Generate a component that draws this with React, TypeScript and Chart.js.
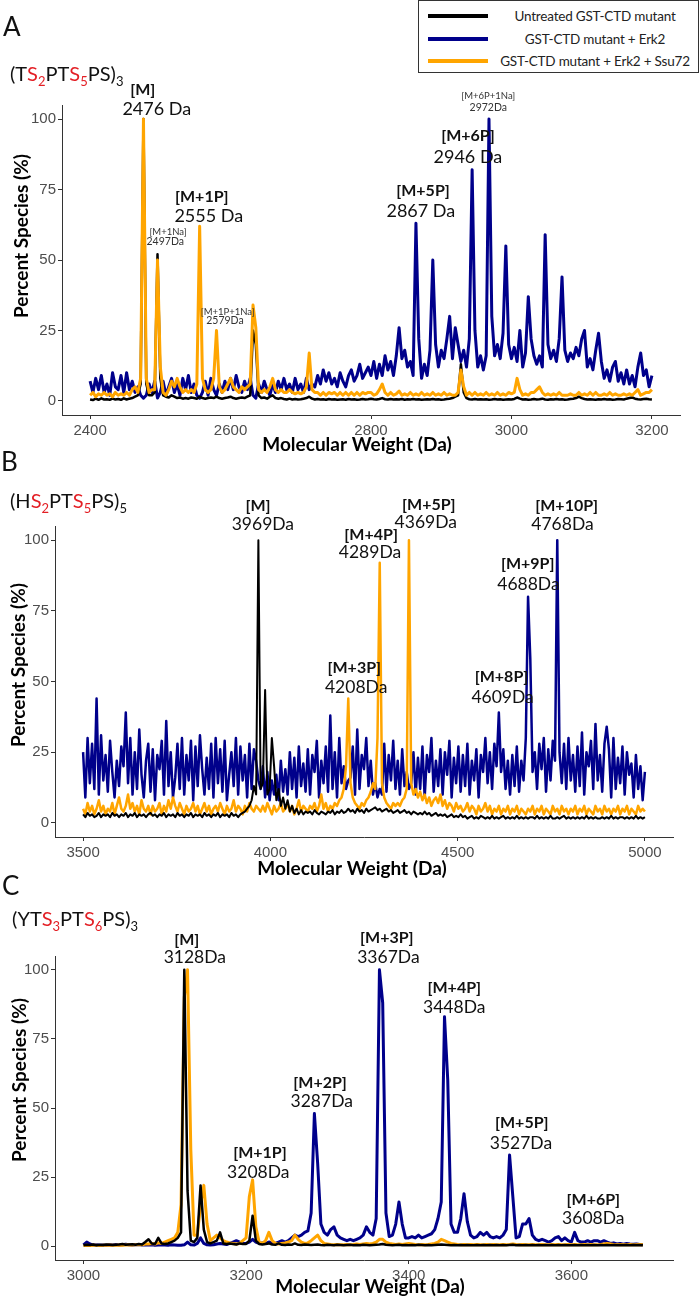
import React, { useEffect, useRef } from "react";
import { Chart, registerables } from "chart.js";

Chart.register(...registerables);

// ---------------- data ----------------
const SERIES_NAMES = ["Untreated GST-CTD mutant", "GST-CTD mutant + Erk2", "GST-CTD mutant + Erk2 + Ssu72"];
const Y_TICKS = [0, 25, 50, 75, 100];
const X_TITLE = "Molecular Weight (Da)";
const Y_TITLE = "Percent Species (%)";

// Panel A : (TS2PTS5PS)3, sampled every 4 Da from 2400 Da
const A_START_DA = 2400;
const A_STEP_DA = 4;
const A_X_TICKS = [2400, 2600, 2800, 3000, 3200];
const A_UNTREATED = [
  0.5, 0.3, 0.8, 0.4, 0.9, 0.5, 0.6, 0.4, 0.8, 0.5,
  0.7, 0.4, 0.9, 0.5, 0.8, 1, 1.5, 2, 6, 100,
  6, 2, 2, 3, 52, 8, 2, 1.5, 1.2, 2,
  1.5, 1, 1.2, 0.8, 1, 0.8, 1.2, 1, 0.8, 1.5,
  1, 0.8, 1, 1.2, 1, 1.5, 1, 0.8, 1, 1.2,
  1.5, 1, 0.8, 1, 1.2, 1, 1.5, 2, 25, 20,
  2, 1, 1.2, 0.8, 1.5, 2, 1, 0.8, 1, 0.7,
  0.5, 0.8, 0.5, 0.7, 0.5, 0.6, 0.8, 1, 1.5, 0.8,
  0.5, 0.7, 0.5, 0.6, 0.4, 0.7, 0.5, 0.6, 0.4, 0.5,
  0.6, 0.4, 0.7, 0.5, 0.6, 0.4, 0.5, 0.7, 0.5, 0.6,
  0.8, 0.6, 0.5, 0.7, 1, 0.6, 0.5, 0.7, 0.5, 0.6,
  0.5, 0.7, 0.4, 0.6, 0.5, 0.7, 0.5, 0.6, 0.4, 0.5,
  0.6, 0.5, 0.7, 0.5, 0.6, 0.4, 0.5, 0.7, 0.8, 1,
  1.5, 2, 13, 3, 1, 0.6, 0.5, 0.7, 0.5, 0.6,
  0.5, 0.6, 0.4, 0.5, 0.7, 0.5, 0.6, 0.4, 0.5, 0.6,
  0.5, 0.7, 1.2, 0.8, 0.5, 0.6, 0.4, 0.5, 0.7, 0.5,
  0.6, 0.8, 0.5, 0.4, 0.6, 0.5, 0.7, 0.5, 0.6, 0.4,
  0.5, 0.7, 0.8, 1, 1.5, 1, 0.7, 0.5, 0.6, 0.5,
  0.4, 0.6, 0.5, 0.7, 0.5, 0.6, 0.4, 0.5, 0.7, 0.6,
  0.5, 0.8, 1, 1.2, 0.8, 0.6, 0.5, 0.7, 0.8, 0.6,
  0.5,
];
const A_ERK2 = [
  7, 3, 8, 4, 9, 3, 6, 2, 10, 5,
  4, 9, 3, 10, 4, 7, 3, 5, 2, 1,
  2, 6, 3, 7, 1, 3, 7, 2, 5, 8,
  3, 6, 2, 8, 4, 9, 3, 6, 2, 1,
  3, 7, 2, 8, 4, 2, 6, 3, 7, 4,
  8, 4, 9, 5, 3, 7, 4, 8, 2, 1,
  6, 3, 7, 4, 2, 6, 3, 7, 4, 8,
  4, 6, 3, 8, 4, 6, 3, 8, 4, 6,
  5, 9, 6, 11, 7, 10, 6, 8, 5, 10,
  7, 5, 9, 11, 7, 9, 13, 8, 10, 12,
  9, 14, 8, 13, 9, 16, 11, 14, 9, 16,
  26, 15, 18, 12, 14, 9, 63, 22, 8, 13,
  9, 18, 50, 20, 12, 18, 15, 22, 30, 15,
  26, 20, 14, 18, 12, 22, 82, 25, 12, 16,
  11, 16, 100, 30, 16, 20, 15, 24, 55, 20,
  15, 19, 14, 25, 12, 17, 37, 22, 16, 13,
  16, 12, 59, 20, 15, 18, 14, 22, 44, 18,
  14, 17, 15, 19, 16, 22, 25, 12, 15, 11,
  18, 24, 14, 8, 11, 7, 12, 14, 7, 10,
  6, 11, 6, 9, 5, 12, 17, 9, 11, 5,
  9,
];
const A_SSU72 = [
  2, 3, 1.5, 2.5, 2, 3, 2, 2.5, 1.5, 3,
  2, 2.5, 2, 3, 2, 4, 5, 3, 8, 100,
  8, 3, 4, 4, 50, 12, 3, 2, 4, 7,
  5, 8, 5, 3, 4, 3, 4, 3, 6, 62,
  8, 4, 3, 4, 8, 25, 5, 3, 4, 6,
  8, 5, 4, 3, 5, 4, 5, 6, 34, 26,
  4, 3, 4, 3, 5, 8, 4, 3, 4, 3,
  3, 4, 3, 2.5, 3, 2.5, 3, 5, 17, 4,
  3, 3, 2, 3, 2, 3, 2.5, 3, 2, 3,
  2, 3, 2, 3, 2, 3, 2, 3, 2.5, 3,
  3, 2, 2.5, 4, 6, 3, 2, 3, 2, 2.5,
  3.5, 2, 2.5, 2, 3, 2, 2.5, 2, 3, 2,
  2.5, 2, 3, 2, 2.5, 2, 3, 2, 2.5, 2,
  2, 3, 11, 5, 2, 3, 2, 3, 2, 2.5,
  2, 3, 2, 2.5, 2, 3, 2, 2.5, 2, 3,
  2.5, 3, 8, 4, 2, 2.5, 2, 3, 3, 4,
  5, 3, 2, 2.5, 2, 2.5, 2, 3, 2, 2,
  2, 2.5, 2, 2, 3, 2, 2.5, 2, 3, 2,
  3, 2, 2, 2.5, 2, 3, 2, 2.5, 2, 2,
  2.5, 2, 2.5, 2, 3, 4, 2, 2.5, 3, 3,
  4,
];
// [name, mass, name Da, name %, mass Da, mass %]
const A_PEAK_LABELS: [string, string, number, number, number, number][] = [
  ["[M]", "2476 Da", 2475, 110.5, 2495, 103.5],
  ["[M+1P]", "2555 Da", 2559, 72.3, 2569, 65.6],
  ["[M+5P]", "2867 Da", 2874, 74.5, 2871, 67.4],
  ["[M+6P]", "2946 Da", 2938, 94, 2938, 86.5],
];
const A_ADDUCT_LABELS: [string, string, number, number, number, number][] = [
  ["[M+1Na]", "2497Da", 2511, 60, 2507, 56.4],
  ["[M+1P+1Na]", "2579Da", 2596, 31.6, 2592, 28.4],
  ["[M+6P+1Na]", "2972Da", 2967, 108.2, 2967, 104],
];

// Panel B : (HS2PTS5PS)5, sampled every 6 Da from 3500 Da
const B_START_DA = 3500;
const B_STEP_DA = 6;
const B_X_TICKS = [3500, 4000, 4500, 5000];
const B_UNTREATED = [
  3, 2, 3.5, 2.5, 3, 2, 2.5, 3.5, 2, 3,
  2.5, 3, 2, 3.5, 2.5, 3, 2, 3, 2.5, 3.5,
  2, 3, 2.5, 3.5, 2, 3, 2.5, 3, 2, 3,
  3.5, 2.5, 3, 2, 3, 2.5, 3.5, 2, 3, 2.5,
  3, 2, 3.5, 2.5, 3, 2, 3, 2.5, 3.5, 2,
  3, 2.5, 3, 2, 3.5, 2.5, 3, 2, 3, 2.5,
  3.5, 2, 3, 2.5, 3, 2, 3.5, 2.5, 3, 2,
  3, 3.5, 4, 5, 6, 8, 13, 10, 100, 12,
  14, 47, 10, 12, 30, 20, 8, 12, 6, 9,
  5, 8, 4, 6, 3.5, 5, 3, 4.5, 3, 4,
  3.5, 4, 3, 4.5, 3.5, 3, 4, 3.5, 3, 4,
  3.5, 4.5, 3, 4, 3.5, 4.5, 3.5, 4, 5, 4,
  4.5, 3.5, 5, 4, 4.5, 3.5, 5, 4, 4.5, 5,
  5.5, 4.5, 5, 4, 4.5, 5, 4, 4.5, 3.5, 4,
  4.5, 3.5, 4, 4.5, 3.5, 4, 3, 4, 3.5, 3,
  3.5, 3, 4, 3, 3.5, 2.5, 3, 3.5, 2.5, 3,
  2.5, 3, 2, 2.5, 3, 2, 2.5, 2, 3, 2,
  2.5, 1.5, 2, 2.5, 1.5, 2, 1.5, 2.5, 2, 1.5,
  2, 1.5, 2.5, 1.5, 2, 1.5, 2, 2.5, 1.5, 2,
  1.5, 2, 1.5, 2.5, 1.5, 2, 1.5, 2, 1.5, 2,
  2, 1.5, 2.5, 1.5, 2, 1.5, 2, 1.5, 2.5, 1.5,
  1.5, 2, 1.5, 2, 2.5, 1.5, 2, 1.5, 2, 1.5,
  2, 1.5, 2, 1.5, 2.5, 1.5, 2, 1.5, 2, 1.5,
  1.5, 2, 1.5, 2, 1.5, 2.5, 1.5, 2, 1.5, 2,
  2, 1.5, 2, 1.5, 2, 1.5, 2.5, 1.5, 2, 1.5,
  2,
];
const B_ERK2 = [
  25, 9, 30, 14, 28, 12, 44, 10, 31, 15,
  24, 11, 29, 18, 9, 22, 13, 27, 20, 39,
  14, 30, 10, 25, 12, 33, 17, 9, 22, 28,
  11, 26, 8, 24, 19, 29, 10, 36, 13, 25,
  9, 16, 28, 12, 30, 10, 24, 15, 29, 8,
  27, 13, 31, 19, 10, 23, 12, 28, 9, 30,
  14, 26, 11, 29, 8, 17, 25, 13, 30, 10,
  27, 15, 24, 9, 28, 12, 26, 22, 15, 12,
  20, 9, 18, 8, 15, 10, 17, 8, 22, 11,
  19, 10, 25, 12, 23, 9, 27, 13, 21, 11,
  26, 10, 24, 18, 29, 9, 22, 14, 27, 11,
  38, 12, 25, 9, 30, 14, 20, 12, 15, 16,
  27, 10, 33, 12, 24, 19, 30, 13, 22, 10,
  14, 9, 12, 10, 28, 11, 24, 15, 29, 12,
  22, 10, 26, 13, 18, 12, 14, 25, 10, 23,
  12, 27, 9, 24, 18, 30, 11, 22, 13, 26,
  10, 25, 17, 29, 9, 23, 14, 27, 11, 24,
  13, 28, 10, 22, 15, 26, 9, 24, 18, 30,
  14, 25, 12, 28, 20, 39, 18, 26, 12, 22,
  10, 24, 13, 27, 11, 22, 15, 30, 80, 58,
  18, 25, 12, 28, 19, 30, 11, 26, 15, 29,
  22, 100, 25, 14, 28, 12, 30, 15, 24, 11,
  27, 13, 32, 10, 25, 20, 29, 12, 35, 15,
  24, 11, 28, 34, 26, 9, 30, 12, 23, 14,
  27, 10, 25, 17, 21, 9, 24, 12, 20, 8,
  18,
];
const B_SSU72 = [
  5, 3, 7, 4, 6, 3, 5, 8, 4, 6,
  3, 5, 4, 7, 3, 6, 9, 5, 4, 6,
  10, 5, 7, 4, 6, 3, 8, 5, 4, 6,
  3, 6, 4, 5, 7, 3, 6, 4, 8, 5,
  9, 6, 4, 7, 5, 3, 6, 4, 5, 7,
  4, 6, 3, 5, 7, 4, 6, 3, 5, 6,
  4, 7, 5, 3, 6, 4, 5, 8, 4, 6,
  5, 3, 6, 4, 7, 5, 4, 6, 5, 4,
  6, 4, 7, 5, 3, 6, 4, 5, 7, 4,
  5, 7, 4, 6, 3, 5, 8, 4, 6, 5,
  4, 6, 5, 7, 4, 6, 10, 5, 7, 4,
  6, 5, 7, 6, 8, 9, 12, 20, 44, 14,
  9, 7, 6, 5, 7, 6, 8, 9, 11, 14,
  12, 30, 92, 14, 9, 7, 6, 5, 7, 6,
  7, 6, 8, 9, 12, 100, 14, 10, 12, 9,
  11, 8, 10, 7, 9, 6, 8, 9, 7, 10,
  6, 8, 5, 7, 6, 4, 7, 5, 6, 4,
  5, 7, 4, 6, 5, 3, 6, 4, 5, 7,
  4, 6, 3, 5, 4, 6, 3, 5, 4, 6,
  3, 5, 4, 6, 3, 5, 4, 3, 5, 4,
  6, 3, 5, 4, 6, 3, 5, 4, 3, 6,
  4, 5, 3, 6, 4, 5, 3, 5, 4, 6,
  3, 5, 4, 6, 3, 5, 4, 3, 6, 4,
  5, 3, 6, 4, 5, 3, 5, 4, 6, 3,
  5, 4, 6, 3, 5, 4, 3, 6, 4, 5,
  4,
];
const B_PEAK_LABELS: [string, string, number, number, number, number][] = [
  ["[M]", "3969Da", 3967, 112, 3980, 105.7],
  ["[M+3P]", "4208Da", 4224, 54.8, 4229, 47.8],
  ["[M+4P]", "4289Da", 4269, 101.9, 4266, 95.5],
  ["[M+5P]", "4369Da", 4423, 112.4, 4415, 106.4],
  ["[M+8P]", "4609Da", 4617, 51.6, 4620, 44.5],
  ["[M+9P]", "4688Da", 4687, 91.5, 4689, 84.5],
  ["[M+10P]", "4768Da", 4791, 112, 4780, 105.7],
];

// Panel C : (YTS3PTS6PS)3, sampled every 4 Da from 3000 Da
const C_START_DA = 3000;
const C_STEP_DA = 4;
const C_X_TICKS = [3000, 3200, 3400, 3600];
const C_UNTREATED = [
  0.3, 0.5, 0.4, 0.6, 0.3, 0.5, 0.4, 0.6, 0.5, 0.4,
  0.5, 0.6, 0.8, 0.5, 0.6, 0.7, 0.5, 0.8, 0.6, 1.5,
  2.5, 1, 0.8, 3, 1, 0.8, 1, 1.5, 2, 3,
  5, 100, 20, 2, 1.5, 3, 22, 6, 1.5, 1,
  1.5, 2, 5, 1, 0.8, 1, 0.8, 0.6, 1, 0.8,
  0.8, 2, 11, 2, 0.8, 0.6, 0.8, 1, 0.6, 0.5,
  1, 0.5, 0.4, 0.6, 0.5, 1, 0.5, 0.4, 0.6, 0.5,
  0.4, 0.5, 0.6, 0.4, 0.3, 0.5, 0.4, 0.3, 0.5, 0.4,
  0.3, 0.4, 0.5, 0.3, 0.4, 0.3, 0.5, 0.4, 0.3, 0.4,
  0.5, 0.6, 0.8, 0.5, 0.4, 0.3, 0.4, 0.5, 0.3, 0.4,
  0.3, 0.4, 0.3, 0.5, 0.4, 0.3, 0.4, 0.3, 0.4, 0.5,
  0.6, 0.5, 0.4, 0.3, 0.4, 0.3, 0.4, 0.3, 0.4, 0.3,
  0.3, 0.4, 0.3, 0.4, 0.3, 0.4, 0.3, 0.4, 0.3, 0.4,
  0.3, 0.4, 0.5, 0.3, 0.4, 0.3, 0.4, 0.3, 0.4, 0.3,
  0.4, 0.3, 0.4, 0.3, 0.4, 0.3, 0.4, 0.3, 0.4, 0.3,
  0.3, 0.4, 0.3, 0.4, 0.3, 0.4, 0.3, 0.4, 0.3, 0.4,
  0.3, 0.4, 0.3, 0.4, 0.3, 0.4, 0.3, 0.4, 0.3, 0.4,
  0.3, 0.4, 0.3,
];
const C_ERK2 = [
  0.5, 1.5, 0.8, 0.4, 0.5, 0.3, 0.4, 0.3, 0.5, 0.4,
  0.6, 0.4, 0.5, 0.7, 0.5, 0.4, 0.5, 0.6, 0.4, 0.5,
  0.4, 0.5, 0.3, 0.4, 0.5, 0.4, 0.3, 0.5, 0.4, 0.3,
  0.3, 0.5, 1.5, 0.5, 0.4, 1, 3, 1, 0.5, 0.4,
  0.5, 0.8, 1, 0.8, 0.6, 1, 1.5, 2, 1.5, 1,
  1, 1.5, 2.5, 1.5, 1, 1.2, 1, 1.5, 1.2, 1,
  1.5, 2, 1.5, 2, 3, 4, 3.5, 4, 5, 5.5,
  12, 48, 30, 8, 5, 4, 6, 7, 4, 3,
  2.5, 2, 2.5, 2, 2.5, 3, 4, 7, 5, 4,
  10, 100, 88, 12, 3.5, 4, 8, 16, 8, 3,
  3, 3.5, 3, 4, 3, 3.5, 4, 4.5, 6, 10,
  16, 83, 60, 8, 5, 5, 10, 19, 9, 4,
  3, 3.5, 5, 4, 5, 3.5, 3, 3.5, 3, 4,
  6, 33, 18, 3, 3.5, 8, 8, 10, 4, 2.5,
  2, 2.5, 2, 1.5, 2, 3, 3.5, 2, 3, 2,
  1.5, 5, 2, 1.5, 1.5, 2, 1.5, 2, 2, 1.5,
  2, 1.5, 1, 1.2, 0.8, 1, 0.7, 1, 0.8, 0.7,
  0.8, 0.6, 0.5,
];
const C_SSU72 = [
  0.2, 0.3, 0.2, 0.3, 0.3, 0.2, 0.3, 0.3, 0.4, 0.3,
  0.3, 0.4, 0.3, 0.4, 0.5, 0.4, 0.5, 0.6, 0.5, 0.8,
  0.8, 1, 0.8, 1.2, 1, 1.5, 2, 2.5, 3, 5,
  15, 90, 100, 35, 4, 4, 15, 22, 8, 2,
  3, 4, 3, 2, 1.5, 1.2, 1, 0.8, 1, 2,
  3, 18, 24, 7, 1.5, 1, 2, 5, 2, 1,
  0.8, 1, 1.2, 1.5, 2, 4, 2.5, 1.5, 1, 1.2,
  2, 3, 4, 2, 1, 0.8, 0.6, 0.5, 0.6, 0.5,
  0.5, 0.6, 0.5, 0.6, 0.8, 0.6, 0.8, 1, 0.8, 1,
  1.5, 2.5, 2.5, 1.5, 1, 0.8, 0.6, 0.8, 0.6, 0.8,
  1, 0.8, 0.6, 0.5, 0.6, 0.5, 0.6, 0.8, 1, 1.5,
  2.5, 2, 1.5, 1, 0.8, 0.6, 0.5, 0.6, 0.5, 0.6,
  0.5, 0.6, 0.5, 0.5, 0.6, 0.5, 0.6, 0.5, 0.5, 0.6,
  0.5, 0.6, 0.8, 0.6, 0.5, 0.6, 0.5, 0.5, 0.6, 0.5,
  0.5, 0.6, 0.5, 0.5, 0.6, 0.5, 0.6, 0.5, 0.5, 0.6,
  0.5, 0.6, 0.5, 0.5, 0.6, 0.5, 0.6, 0.5, 0.5, 0.6,
  0.8, 1, 0.8, 0.6, 0.5, 0.6, 0.5, 0.5, 0.6, 0.5,
  0.5, 0.6, 0.5,
];
const C_PEAK_LABELS: [string, string, number, number, number, number][] = [
  ["[M]", "3128Da", 3127, 110.7, 3137, 104.6],
  ["[M+1P]", "3208Da", 3217, 33.6, 3215, 26.8],
  ["[M+2P]", "3287Da", 3291, 59, 3293, 52.5],
  ["[M+3P]", "3367Da", 3373, 111.4, 3375, 104.6],
  ["[M+4P]", "3448Da", 3456, 93.3, 3456, 86.5],
  ["[M+5P]", "3527Da", 3539, 44.5, 3538, 37.3],
  ["[M+6P]", "3608Da", 3627, 16.6, 3627, 10.1],
];

// ---------------- styling / layout ----------------
const COLORS = { u: "#000000", e: "#00008b", s: "#ffa500" };
const LABEL_FONT = "Lato, 'Open Sans', sans-serif";
const TICK_FONT = "'Liberation Sans', Arial, sans-serif";
const RED = "#e31e24";

type Key = "u" | "e" | "s";
type Panel = {
  canvasTop: number;
  canvasHeight: number;
  area: { left: number; right: number; top: number; bottom: number };
  xMin: number;
  xMax: number;
  start: number;
  step: number;
  xTicks: number[];
  series: Record<Key, number[]>;
  order: Key[];
  widths: Record<Key, number>;
  peaks: [string, string, number, number, number, number][];
  adducts: [string, string, number, number, number, number][];
  massSize: number;
  xTitle: [number, number];
  yTitle: [number, number];
};

const PANELS: Panel[] = [
  {
    canvasTop: 0, canvasHeight: 460,
    area: { left: 62, right: 680, top: 105, bottom: 415 },
    xMin: 2360, xMax: 3240, start: A_START_DA, step: A_STEP_DA, xTicks: A_X_TICKS,
    series: { u: A_UNTREATED, e: A_ERK2, s: A_SSU72 },
    order: ["s", "u", "e"],
    widths: { u: 2.5, e: 3, s: 3 },
    peaks: A_PEAK_LABELS, adducts: A_ADDUCT_LABELS, massSize: 18,
    xTitle: [357, 445], yTitle: [22, 236],
  },
  {
    canvasTop: 440, canvasHeight: 445,
    area: { left: 55, right: 673, top: 526, bottom: 837 },
    xMin: 3425, xMax: 5075, start: B_START_DA, step: B_STEP_DA, xTicks: B_X_TICKS,
    series: { u: B_UNTREATED, e: B_ERK2, s: B_SSU72 },
    order: ["u", "s", "e"],
    widths: { u: 2, e: 2.5, s: 2.5 },
    peaks: B_PEAK_LABELS, adducts: [], massSize: 17.5,
    xTitle: [352, 869], yTitle: [19, 665],
  },
  {
    canvasTop: 868, canvasHeight: 430,
    area: { left: 55, right: 673, top: 956, bottom: 1260 },
    xMin: 2965, xMax: 3725, start: C_START_DA, step: C_STEP_DA, xTicks: C_X_TICKS,
    series: { u: C_UNTREATED, e: C_ERK2, s: C_SSU72 },
    order: ["u", "s", "e"],
    widths: { u: 2.5, e: 3, s: 3 },
    peaks: C_PEAK_LABELS, adducts: [], massSize: 17.5,
    xTitle: [370, 1287], yTitle: [20, 1080],
  },
];

function toPoints(start: number, step: number, ys: number[]) {
  return ys.map((y, i) => ({ x: start + i * step, y }));
}

function annotationPlugin(p: Panel) {
  return {
    id: "peakAnnotations",
    afterDraw(chart: any) {
      const ctx: CanvasRenderingContext2D = chart.ctx;
      const xs = chart.scales.x;
      const ys = chart.scales.y;
      ctx.save();
      ctx.textAlign = "center";
      ctx.textBaseline = "middle";
      ctx.fillStyle = "#111111";
      for (const [name, mass, xn, yn, xm, ym] of p.peaks) {
        ctx.font = `bold 16px ${LABEL_FONT}`;
        ctx.fillText(name, xs.getPixelForValue(xn), ys.getPixelForValue(yn));
        ctx.font = `${p.massSize}px ${LABEL_FONT}`;
        ctx.fillText(mass, xs.getPixelForValue(xm), ys.getPixelForValue(ym));
      }
      ctx.fillStyle = "#333333";
      for (const [name, mass, xn, yn, xm, ym] of p.adducts) {
        ctx.font = `9.5px ${LABEL_FONT}`;
        ctx.fillText(name, xs.getPixelForValue(xn), ys.getPixelForValue(yn));
        ctx.font = `10.5px ${LABEL_FONT}`;
        ctx.fillText(mass, xs.getPixelForValue(xm), ys.getPixelForValue(ym));
      }
      ctx.fillStyle = "#000000";
      ctx.font = `bold 19px ${LABEL_FONT}`;
      ctx.fillText(X_TITLE, p.xTitle[0], p.xTitle[1] - p.canvasTop);
      ctx.translate(p.yTitle[0], p.yTitle[1] - p.canvasTop);
      ctx.rotate(-Math.PI / 2);
      ctx.fillText(Y_TITLE, 0, 0);
      ctx.restore();
    },
  };
}

function buildConfig(p: Panel): any {
  const nameOf: Record<Key, string> = { u: SERIES_NAMES[0], e: SERIES_NAMES[1], s: SERIES_NAMES[2] };
  const axisCommon = {
    type: "linear",
    grid: { display: true, drawOnChartArea: false, drawTicks: true, tickLength: 4, color: "#333333", lineWidth: 1 },
    border: { display: true, color: "#333333", width: 1 },
  };
  return {
    type: "line",
    data: {
      datasets: p.order.map((k) => ({
        label: nameOf[k],
        data: toPoints(p.start, p.step, p.series[k]),
        borderColor: COLORS[k],
        backgroundColor: COLORS[k],
        borderWidth: p.widths[k],
        pointRadius: 0,
        pointHoverRadius: 0,
        tension: 0,
        fill: false,
        borderJoinStyle: "round",
      })),
    },
    options: {
      animation: false,
      responsive: false,
      maintainAspectRatio: false,
      events: [],
      layout: {
        autoPadding: false,
        padding: { left: 0, top: p.area.top - p.canvasTop, right: 700 - p.area.right, bottom: 0 },
      },
      plugins: { legend: { display: false }, tooltip: { enabled: false }, title: { display: false } },
      scales: {
        x: {
          ...axisCommon,
          min: p.xMin,
          max: p.xMax,
          afterBuildTicks: (s: any) => { s.ticks = p.xTicks.map((v) => ({ value: v })); },
          afterFit: (s: any) => { s.height = p.canvasTop + p.canvasHeight - p.area.bottom; },
          ticks: {
            color: "#4d4d4d", font: { family: TICK_FONT, size: 15 }, padding: 3,
            maxRotation: 0, autoSkip: false, callback: (v: any) => String(v),
          },
        },
        y: {
          ...axisCommon,
          min: -5,
          max: 105,
          afterBuildTicks: (s: any) => { s.ticks = Y_TICKS.map((v) => ({ value: v })); },
          afterFit: (s: any) => { s.width = p.area.left; },
          ticks: {
            color: "#4d4d4d", font: { family: TICK_FONT, size: 15 }, padding: 2,
            autoSkip: false, callback: (v: any) => String(v),
          },
        },
      },
    },
    plugins: [annotationPlugin(p)],
  };
}

function PanelChart({ p }: { p: Panel }) {
  const ref = useRef<HTMLCanvasElement>(null);
  useEffect(() => {
    const chart = new Chart(ref.current as HTMLCanvasElement, buildConfig(p));
    return () => chart.destroy();
  }, [p]);
  return (
    <canvas
      ref={ref}
      width={700}
      height={p.canvasHeight}
      style={{ position: "absolute", left: 0, top: p.canvasTop, width: 700, height: p.canvasHeight }}
    />
  );
}

const subStyle: React.CSSProperties = { fontSize: 13, verticalAlign: "-5px", lineHeight: 0 };

function Seq({ parts, top, left }: { parts: [string, boolean, string][]; top: number; left: number }) {
  // parts: [letters, red?, subscript]
  return (
    <div style={{ position: "absolute", left, top, fontFamily: LABEL_FONT, fontSize: 20, lineHeight: "24px", color: "#111", whiteSpace: "nowrap" }}>
      {parts.map(([t, red, sub], i) => (
        <span key={i} style={{ color: red ? RED : "#111" }}>
          {t}
          {sub ? <sub style={subStyle}>{sub}</sub> : null}
        </span>
      ))}
    </div>
  );
}

const LEGEND_COLORS = [COLORS.u, COLORS.e, COLORS.s];
const LEGEND_ROWS = [15, 38, 60];

export default function App() {
  return (
    <div style={{ position: "absolute", left: 0, top: 0, width: 700, height: 1298, background: "#ffffff", overflow: "hidden" }}>
      {PANELS.map((p, i) => (
        <PanelChart key={i} p={p} />
      ))}
      {/* panel letters */}
      {[["A", 3, 26], ["B", 1, 461], ["C", 2, 885]].map(([t, l, c]) => (
        <div key={t as string} style={{ position: "absolute", left: l as number, top: (c as number) - 16, fontFamily: LABEL_FONT, fontSize: 26, lineHeight: "32px", color: "#111" }}>
          {t}
        </div>
      ))}
      {/* peptide sequences */}
      <Seq top={61} left={10} parts={[["(T", false, ""], ["S", true, "2"], ["PT", false, ""], ["S", true, "5"], ["PS)", false, "3"]]} />
      <Seq top={488} left={10} parts={[["(H", false, ""], ["S", true, "2"], ["PT", false, ""], ["S", true, "5"], ["PS)", false, "5"]]} />
      <Seq top={906} left={12} parts={[["(YT", false, ""], ["S", true, "3"], ["PT", false, ""], ["S", true, "6"], ["PS)", false, "3"]]} />
      {/* legend */}
      <div style={{ position: "absolute", left: 418, top: 0, width: 281, height: 73, border: "1.5px solid #333", boxSizing: "border-box", background: "#fff", fontFamily: LABEL_FONT, fontSize: 13.5, color: "#222" }}>
        {SERIES_NAMES.map((name, i) => (
          <div key={name} style={{ position: "absolute", left: 0, top: LEGEND_ROWS[i] - 9, width: 278, height: 18 }}>
            <div style={{ position: "absolute", left: 9, top: 7, width: 60, height: 4, background: LEGEND_COLORS[i] }} />
            <div style={{ position: "absolute", left: 74, right: 0, top: 0, lineHeight: "18px", textAlign: "center", whiteSpace: "nowrap", letterSpacing: "-0.2px" }}>{name}</div>
          </div>
        ))}
      </div>
    </div>
  );
}
